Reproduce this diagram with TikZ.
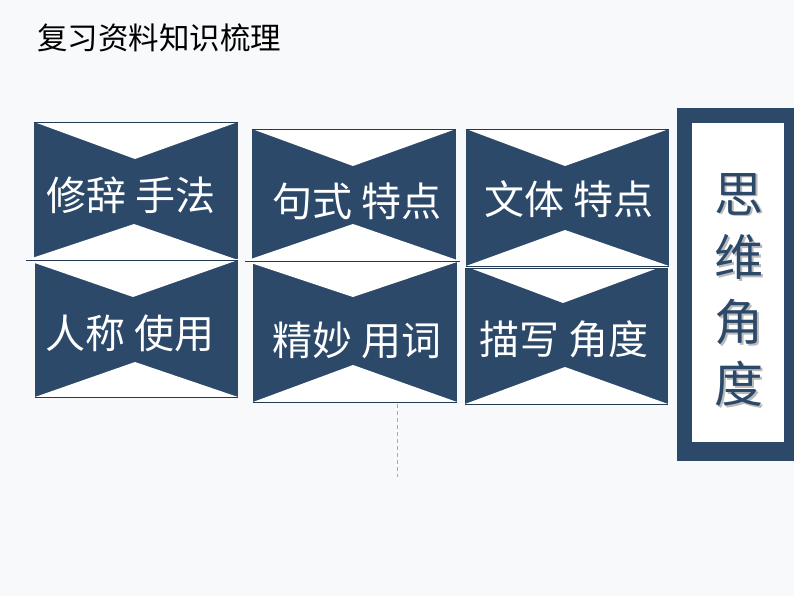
\documentclass[tikz,border=0pt]{standalone}
\usepackage{fontspec}
\newfontfamily\cjk{Noto Sans CJK SC}
\definecolor{bgc}{RGB}{248,249,251}
\definecolor{navy}{RGB}{44,73,106}
\definecolor{dashgray}{RGB}{170,170,170}
\tikzset{
  darkpart/.style={fill=navy,draw=none},
  notch/.style={fill=white,draw=none},
  edge/.style={draw=navy!80!black,line width=0.9pt},
  cardtext/.style={text=white,font=\cjk\fontsize{40}{46}\selectfont,inner sep=0pt,anchor=center},
  titletext/.style={text=black,font=\cjk\fontsize{30.5}{35}\selectfont,inner sep=0pt,anchor=west},
  vchar/.style={text=navy,font=\cjk\fontsize{49}{53}\selectfont,inner sep=0pt,anchor=center},
  vshadow/.style={text=black!45,font=\cjk\fontsize{49}{53}\selectfont,inner sep=0pt,anchor=center,opacity=0.6},
}
\begin{document}
\begin{tikzpicture}[x=1pt,y=-1pt]
\useasboundingbox (0,0) rectangle (794,596);
\fill[bgc] (0,0) rectangle (794,596);

% title
\node[titletext] (title) at (37,38) {复习资料知识梳理};

% ---- card 1 ----
\fill[darkpart] (34,122) rectangle (238,259);
\fill[notch] (34,122) -- (135,159) -- (238,122) -- cycle;
\fill[notch] (26,260) -- (134,224) -- (238,260) -- cycle;
% ---- card 2 ----
\fill[darkpart] (35,260) rectangle (238,397);
\fill[notch] (26,260) -- (133,297) -- (238,260) -- cycle;
\fill[notch] (35,397) -- (135,362) -- (238,397) -- cycle;
\draw[edge] (34,122) -- (238,122);
\draw[edge] (26,260) -- (238,260);
\draw[edge] (35,397) -- (238,397);

% ---- card 3 ----
\fill[darkpart] (252,129) rectangle (456,261);
\fill[notch] (252,129) -- (353,166) -- (456,129) -- cycle;
\fill[notch] (245,261) -- (353,224) -- (460,261) -- cycle;
% ---- card 4 ----
\fill[darkpart] (253,261) rectangle (457,402);
\fill[notch] (245,261) -- (353,297) -- (460,261) -- cycle;
\fill[notch] (253,402) -- (353,365) -- (457,402) -- cycle;
\draw[edge] (252,129) -- (456,129);
\draw[edge] (245,261) -- (460,261);
\draw[edge] (253,402) -- (457,402);

% ---- card 5 ----
\fill[darkpart] (466,129) rectangle (669,266);
\fill[notch] (466,129) -- (565,166) -- (669,129) -- cycle;
\fill[notch] (466,266) -- (565,230) -- (669,266) -- cycle;
% ---- card 6 ----
\fill[darkpart] (465,268) rectangle (668,404);
\fill[notch] (470,268) -- (563,303) -- (658,268) -- cycle;
\fill[notch] (465,404) -- (565,367) -- (668,404) -- cycle;
\draw[edge] (466,129) -- (669,129);
\draw[edge] (466,266.5) -- (669,266.5);
\draw[edge] (465,268) -- (668,268);
\draw[edge] (465,404) -- (668,404);

% card texts
\node[cardtext] (t1) at (131,195) {修辞 手法};
\node[cardtext] (t2) at (130,333) {人称 使用};
\node[cardtext] (t3) at (357,201) {句式 特点};
\node[cardtext] (t4) at (357,340) {精妙 用词};
\node[cardtext] (t5) at (569,199) {文体 特点};
\node[cardtext] (t6) at (564,339) {描写 角度};

% dashed guide
\coordinate (dtop) at (397,404);
\coordinate (dbot) at (397,477);
\draw[dashgray,line width=0.8pt,dash pattern=on 4pt off 3pt] (dtop) -- (dbot);

% right panel
\fill[navy] (677,108) rectangle (800,461);
\fill[white] (692,123) rectangle (784,442);
\foreach \ch/\yy/\nm in {思/194/a,维/257/b,角/322/c,度/384/d}{
  \node[vshadow] at (740.5,\yy+1.5) {\ch};
  \node[vchar] (v\nm) at (739,\yy) {\ch};
}
\end{tikzpicture}
\end{document}
